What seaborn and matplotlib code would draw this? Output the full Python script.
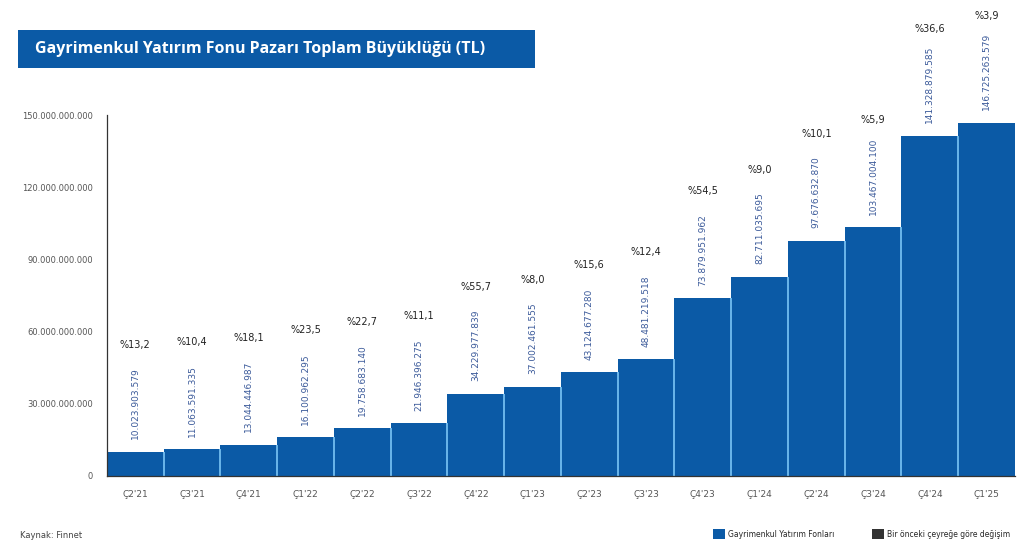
import matplotlib
matplotlib.use("Agg")
import matplotlib.pyplot as plt
from matplotlib.patches import Rectangle, Patch
from matplotlib.ticker import FuncFormatter, FixedLocator
import seaborn as sns
import pandas as pd

quarters = ["Ç2'21", "Ç3'21", "Ç4'21", "Ç1'22", "Ç2'22", "Ç3'22", "Ç4'22", "Ç1'23",
            "Ç2'23", "Ç3'23", "Ç4'23", "Ç1'24", "Ç2'24", "Ç3'24", "Ç4'24", "Ç1'25"]
fund_size = [10023903579, 11063591335, 13044446987, 16100962295, 19758683140,
             21946396275, 34229977839, 37002461555, 43124677280, 48481219518,
             73879951962, 82711035695, 97676632870, 103467004100, 141328879585,
             146725263579]
qoq_change = ["%13,2", "%10,4", "%18,1", "%23,5", "%22,7", "%11,1", "%55,7", "%8,0",
              "%15,6", "%12,4", "%54,5", "%9,0", "%10,1", "%5,9", "%36,6", "%3,9"]
y_ticks = [0, 30e9, 60e9, 90e9, 120e9, 150e9]

BLUE = "#0b5aa6"
EDGE = "#6bb6ea"
GREY = "#555555"
NARROW = ["Liberation Sans Narrow", "DejaVu Sans"]

sns.set_theme(style="white")
plt.rcParams["font.family"] = ["Liberation Sans", "DejaVu Sans"]

df = pd.DataFrame({"quarter": quarters, "size": fund_size})

fig = plt.figure(figsize=(10.17, 5.48), dpi=100)
fig.patch.set_facecolor("white")
ax = fig.add_axes([0.1052, 0.1314, 0.8928, 0.6587])

sns.barplot(data=df, x="quarter", y="size", color=BLUE, width=1.0,
            edgecolor="none", linewidth=0, saturation=1, ax=ax)

# thin light separators between neighbouring bars
for i in range(len(fund_size) - 1):
    ax.vlines(i + 0.5, 0, min(fund_size[i], fund_size[i + 1]), color=EDGE,
              linewidth=1.4, zorder=3)

ax.set_ylim(0, 150e9)
ax.set_xlim(-0.5, len(quarters) - 0.5)
ax.set_xlabel("")
ax.set_ylabel("")
ax.set_yticks(y_ticks)
ax.yaxis.set_major_formatter(FuncFormatter(lambda v, p: f"{int(v):,}".replace(",", ".")))
for lbl in ax.get_yticklabels():
    lbl.set_fontfamily(NARROW)
ax.tick_params(axis="y", direction="in", length=4, width=0.8, color="#333333",
               labelsize=6, labelcolor=GREY, pad=10)
ax.tick_params(axis="x", length=0, labelsize=6.5, labelcolor=GREY, pad=10)
for lbl in ax.get_xticklabels():
    lbl.set_fontfamily(NARROW)
ax.xaxis.set_minor_locator(FixedLocator([i + 0.5 for i in range(len(quarters) - 1)]))
ax.tick_params(axis="x", which="minor", bottom=True, direction="in", length=3,
               width=1.2, color="#222222")

sns.despine(ax=ax, top=True, right=True)
for s in ("left", "bottom"):
    ax.spines[s].set_color("#333333")
    ax.spines[s].set_linewidth(0.9)
    ax.spines[s].set_zorder(4)

# value labels (vertical) and quarter-over-quarter change above them
for i, (v, pct) in enumerate(zip(fund_size, qoq_change)):
    txt = f"{v:,}".replace(",", ".")
    ax.annotate(txt, (i, v), xytext=(0, 9), textcoords="offset points",
                rotation=90, ha="center", va="bottom", fontsize=6.5,
                color="#3b5a9a", family=NARROW, annotation_clip=False)
    ax.annotate(pct, (i, v), xytext=(0, 77), textcoords="offset points",
                ha="center", va="center", fontsize=7, color="#222222",
                family=NARROW, annotation_clip=False)

# title banner
fig.patches.append(Rectangle((18 / 1017, 1 - 68 / 548), (535 - 18) / 1017, 38 / 548,
                             transform=fig.transFigure, facecolor=BLUE,
                             edgecolor="none", zorder=0))
fig.text(35 / 1017, 1 - 49 / 548, "Gayrimenkul Yatırım Fonu Pazarı Toplam Büyüklüğü (TL)",
         color="white", fontsize=11.5, fontweight="bold", va="center", ha="left",
         family=["Open Sans", "DejaVu Sans"])

fig.text(20 / 1017, 1 - 535 / 548, "Kaynak: Finnet", fontsize=6, color="#444444",
         va="center", ha="left", family=NARROW)

handles = [Patch(facecolor=BLUE, edgecolor="none"),
           Patch(facecolor="#333333", edgecolor="none")]
fig.legend(handles, ["Gayrimenkul Yatırım Fonları", "Bir önceki çeyreğe göre değişim"],
           loc="center right", bbox_to_anchor=(1.0, 1 - 534 / 548), ncol=2,
           frameon=False, handlelength=1.5, handleheight=1.5,
           handletextpad=0.4, columnspacing=5, prop={"family": NARROW, "size": 5.5})

fig.savefig("out.png", dpi=100, facecolor="white")
